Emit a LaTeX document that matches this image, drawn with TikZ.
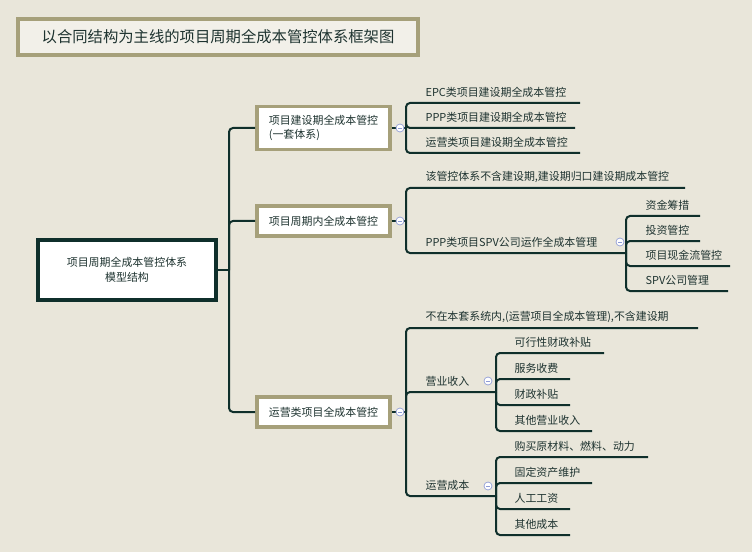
\documentclass[tikz,border=0pt]{standalone}
\usepackage{fontspec}
\newfontfamily\cjk{Noto Sans CJK SC}
\usetikzlibrary{positioning}
\definecolor{bgc}{HTML}{E9E6DA}
\definecolor{linec}{HTML}{0F2F2B}
\definecolor{khaki}{HTML}{A6A07A}
\definecolor{txtc}{HTML}{1E3330}
\definecolor{knob}{HTML}{8E9BD6}
\tikzset{
  topbox/.style={draw=khaki,line width=2.6pt,fill=white,minimum height=22.5pt,align=left,font=\cjk\fontsize{8.2}{11}\selectfont,text=txtc},
  rootbox/.style={draw=linec,line width=3pt,fill=white,align=center,font=\cjk\fontsize{8.2}{11}\selectfont,text=txtc},
  leaf/.style={anchor=south west,inner sep=1pt,font=\cjk\fontsize{8.2}{10}\selectfont,text=txtc},
  branch/.style={draw=linec,line width=1.5pt,rounded corners=3pt},
  knobc/.style={circle,draw=knob,fill=white,inner sep=0pt,minimum size=6pt,line width=0.5pt},
}
\newcommand{\knobat}[1]{\node[knobc] at (#1) {}; \draw[knob,line width=0.6pt] ($(#1)+(-1.5pt,0)$) -- ($(#1)+(1.5pt,0)$);}
\usetikzlibrary{calc}
\begin{document}
\begin{tikzpicture}[x=0.75pt,y=-0.75pt]
\fill[bgc] (0,0) rectangle (752,552);
\useasboundingbox (0,0) rectangle (752,552);

% title
\node[draw=khaki,line width=2.4pt,fill=bgc!60!white,minimum width=300pt,minimum height=27pt,
  font=\cjk\fontsize{11.5}{13}\selectfont,text=txtc] (title) at (218,37) {以合同结构为主线的项目周期全成本管控体系框架图};

% root and first level
\node[rootbox,minimum width=133pt,minimum height=45pt] (root) at (127,270) {项目周期全成本管控体系\\模型结构};
\node[topbox,minimum width=100pt,minimum height=32pt] (bA) at (323.5,128) {项目建设期全成本管控\\(一套体系)};
\node[topbox,minimum width=100pt] (bB) at (323.5,221) {项目周期内全成本管控};
\node[topbox,minimum width=100pt] (bC) at (323.5,412) {运营类项目全成本管控};

\draw[branch] (root.east) -- (229,270);
\foreach \b in {bA,bB,bC}
  \draw[branch] (229,270) |- (\b.west);

% branch A
\coordinate (jA) at (406,128);
\draw[branch] (bA.east) -- (jA);
\foreach \y/\xe/\t/\n in {103/580/EPC类项目建设期全成本管控/a1,128/575/PPP类项目建设期全成本管控/a2,153/580/运营类项目建设期全成本管控/a3}{
  \draw[branch] (jA) |- (\xe,\y);
  \node[leaf] (\n) at (424,\y-4) {\t};
}
\knobat{400,128}

% branch B
\coordinate (jB) at (406,221);
\draw[branch] (bB.east) -- (jB);
\draw[branch] (jB) |- (685,188);
\node[leaf] (b1) at (424,184) {该管控体系不含建设期,建设期归口建设期成本管控};
\draw[branch] (jB) |- (626,253);
\node[leaf] (b2) at (424,249) {PPP类项目SPV公司运作全成本管理};
\knobat{400,221}
\coordinate (jB2) at (626,253);
\foreach \y/\xe/\t/\n in {216/700/资金筹措/c1,241/700/投资管控/c2,266/730/项目现金流管控/c3,291/728/SPV公司管理/c4}{
  \draw[branch] (jB2) |- (\xe,\y);
  \node[leaf] (\n) at (644,\y-4) {\t};
}
\knobat{620,242}

% branch C
\coordinate (jC) at (406,412);
\draw[branch] (bC.east) -- (jC);
\draw[branch] (jC) |- (698,328);
\node[leaf] (d0) at (424,324) {不在本套系统内,(运营项目全成本管理),不含建设期};
\draw[branch] (jC) |- (496,392);
\node[leaf] (d1) at (424,388) {营业收入};
\draw[branch] (jC) |- (496,496);
\node[leaf] (d2) at (424,492) {运营成本};
\knobat{400,412}
\coordinate (jC1) at (496,392);
\foreach \y/\xe/\t/\n in {353/604/可行性财政补贴/e1,379/570/服务收费/e2,405/570/财政补贴/e3,431/592/其他营业收入/e4}{
  \draw[branch] (jC1) |- (\xe,\y);
  \node[leaf] (\n) at (513,\y-4) {\t};
}
\knobat{488,381}
\coordinate (jC2) at (496,496);
\foreach \y/\xe/\t/\n in {457/648/购买原材料、燃料、动力/f1,483/592/固定资产维护/f2,509/570/人工工资/f3,535/570/其他成本/f4}{
  \draw[branch] (jC2) |- (\xe,\y);
  \node[leaf] (\n) at (513,\y-4) {\t};
}
\knobat{488,486}
\end{tikzpicture}
\end{document}
